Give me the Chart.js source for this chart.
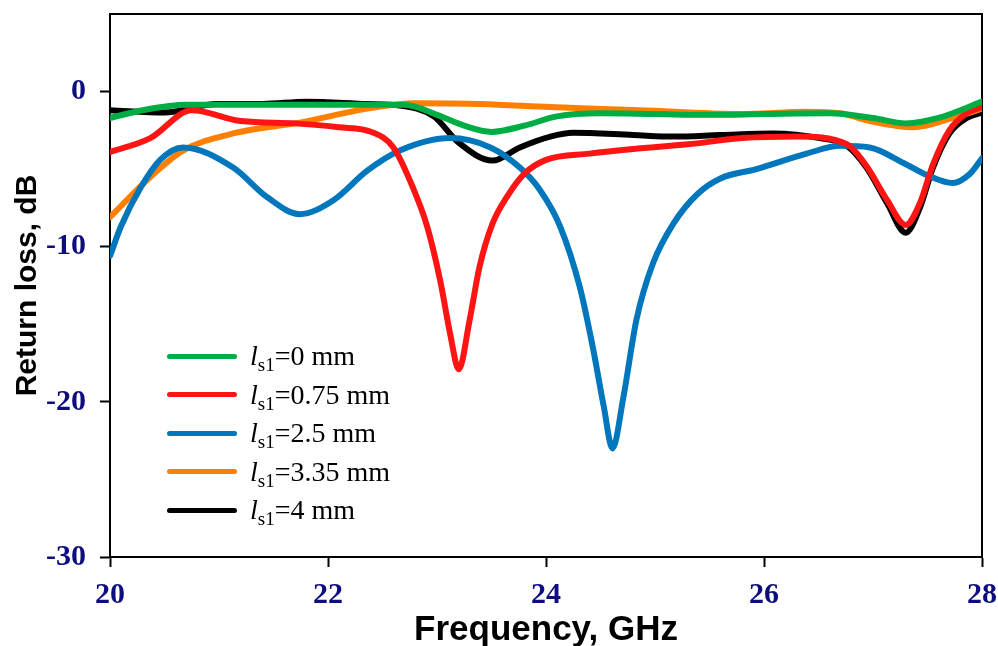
<!DOCTYPE html>
<html>
<head>
<meta charset="utf-8">
<script src="https://cdn.jsdelivr.net/npm/chart.js@4.4.1/dist/chart.umd.min.js"></script>
<style>
  body { margin: 0; background: #fff; }
  #wrap { position: relative; width: 998px; height: 646px; }
  #legend { position: absolute; left: 167px; top: 337px; font-family: "Liberation Serif", "Times New Roman", serif; font-size: 28px; color: #000; }
  #legend .row { height: 38.5px; display: flex; align-items: center; white-space: nowrap; }
  #legend .swatch { display: inline-block; width: 70px; height: 5px; border-radius: 3px; margin-right: 13px; }
  #legend sub { font-size: 19px; vertical-align: -6px; line-height: 0; }
</style>
</head>
<body>
<div id="wrap">
  <canvas id="chart" width="998" height="646"></canvas>
  <div id="legend"></div>
</div>
<script>
// slot length values (mm) and colours
const slotLengths = ['0', '0.75', '2.5', '3.35', '4'];
const colors = ['#00ad45', '#ff1414', '#0077bd', '#ff8000', '#000000'];

// frequency (GHz) / return loss (dB)
const freqGreen = [20, 20.3, 20.7, 21.2, 21.8, 22.3, 22.7, 23.0, 23.25, 23.5, 23.8, 24.1, 24.5, 25.0, 25.5, 26.0, 26.6, 27.0, 27.3, 27.6, 28];
const lossGreen = [-1.7, -1.2, -0.85, -0.85, -0.85, -0.85, -0.85, -1.5, -2.2, -2.6, -2.2, -1.6, -1.4, -1.45, -1.5, -1.45, -1.4, -1.7, -2.05, -1.7, -0.65];

const freqRed = [20, 20.37, 20.75, 21.2, 21.7, 22.1, 22.4, 22.6, 22.78, 22.91, 23.03, 23.12, 23.2, 23.3, 23.39, 23.51, 23.64, 23.8, 24.0, 24.4, 24.8, 25.3, 25.8, 26.3, 26.76, 26.94, 27.13, 27.3, 27.43, 27.55, 27.7, 27.86, 28];
const lossRed = [-3.9, -3.0, -1.2, -1.9, -2.05, -2.3, -2.6, -3.6, -6.2, -8.7, -12.2, -15.6, -17.9, -14.7, -11.3, -8.5, -6.8, -5.3, -4.4, -4.0, -3.7, -3.4, -3.0, -2.9, -3.4, -4.8, -7.0, -8.6, -7.2, -4.7, -2.5, -1.4, -1.0];

const freqBlue = [20, 20.1, 20.28, 20.46, 20.67, 21.13, 21.44, 21.74, 22.05, 22.36, 22.66, 23.12, 23.49, 23.76, 23.94, 24.13, 24.31, 24.43, 24.53, 24.61, 24.71, 24.83, 24.98, 25.17, 25.39, 25.6, 25.93, 26.39, 26.7, 26.97, 27.28, 27.5, 27.73, 27.89, 28];
const lossBlue = [-10.6, -8.7, -6.2, -4.4, -3.6, -4.9, -6.8, -7.9, -7.0, -5.1, -3.8, -3.0, -3.6, -4.9, -6.3, -8.7, -12.6, -16.5, -20.3, -23.0, -19.7, -14.7, -11.1, -8.5, -6.6, -5.6, -5.0, -4.0, -3.5, -3.6, -4.6, -5.4, -5.9, -5.3, -4.3];

const freqOrange = [20, 20.37, 20.67, 21.13, 21.74, 22.36, 22.8, 23.4, 24.04, 24.86, 25.78, 26.39, 26.7, 26.97, 27.37, 27.73, 28];
const lossOrange = [-8.1, -5.5, -3.8, -2.7, -2.0, -1.1, -0.75, -0.8, -1.0, -1.2, -1.45, -1.3, -1.4, -1.9, -2.3, -1.7, -1.1];

const freqBlack = [20, 20.5, 20.98, 21.4, 21.8, 22.36, 22.66, 22.97, 23.2, 23.51, 23.76, 24.04, 24.25, 24.8, 25.17, 25.6, 26.08, 26.51, 26.76, 26.94, 27.13, 27.3, 27.43, 27.55, 27.7, 27.86, 28];
const lossBlack = [-1.2, -1.35, -0.8, -0.8, -0.65, -0.8, -0.9, -1.6, -3.3, -4.45, -3.6, -2.9, -2.65, -2.8, -2.9, -2.8, -2.7, -3.0, -3.5, -4.9, -7.2, -9.1, -7.5, -4.9, -2.7, -1.7, -1.35];

const xTicks = [20, 22, 24, 26, 28];
const yTicks = [-30, -20, -10, 0];

const freqs = [freqGreen, freqRed, freqBlue, freqOrange, freqBlack];
const losses = [lossGreen, lossRed, lossBlue, lossOrange, lossBlack];

const zip = (xs, ys) => xs.map((x, i) => ({ x: x, y: ys[i] }));

const datasets = slotLengths.map((ls, i) => ({
    label: 'ls1=' + ls + ' mm',
    data: zip(freqs[i], losses[i]),
    borderColor: colors[i],
    backgroundColor: colors[i],
    borderWidth: 6,
    pointRadius: 0,
    showLine: true,
    cubicInterpolationMode: 'monotone',
    borderCapStyle: 'round',
    borderJoinStyle: 'round'
}));

// html legend with italic l and subscript
const legendEl = document.getElementById('legend');
slotLengths.forEach((ls, i) => {
    const row = document.createElement('div');
    row.className = 'row';
    row.innerHTML = '<span class="swatch" style="background:' + colors[i] + '"></span>' +
        '<span><i>l</i><sub>s1</sub>=' + ls + ' mm</span>';
    legendEl.appendChild(row);
});

const frame = {
    id: 'frame',
    beforeDatasetsDraw(chart) {
        const a = chart.chartArea;
        const ctx = chart.ctx;
        ctx.save();
        ctx.strokeStyle = '#000';
        ctx.lineWidth = 2;
        ctx.strokeRect(a.left, a.top, a.right - a.left, a.bottom - a.top);
        ctx.restore();
    }
};

// stop label overhang from shifting the plot area
function noPad(axis) {
    axis.paddingTop = 0;
    axis.paddingBottom = 0;
    axis.paddingLeft = 0;
    axis.paddingRight = 0;
}

const tickFont = { family: '"Liberation Serif", "Times New Roman", serif', size: 30, weight: 'bold' };
const titleFont = { family: '"Liberation Sans", Arial, sans-serif', weight: 'bold' };

new Chart(document.getElementById('chart').getContext('2d'), {
    type: 'scatter',
    data: { datasets: datasets },
    options: {
        responsive: false,
        animation: false,
        layout: { padding: { left: 0, top: 14, right: 16, bottom: 0 } },
        plugins: {
            legend: { display: false },
            tooltip: { enabled: false }
        },
        scales: {
            x: {
                type: 'linear',
                min: 20,
                max: 28,
                afterBuildTicks: (axis) => { axis.ticks = xTicks.map(v => ({ value: v })); },
                afterFit: (axis) => { axis.height = 89; noPad(axis); },
                grid: { drawOnChartArea: false, tickColor: '#000', tickLength: 10, tickWidth: 2 },
                border: { display: true, color: '#000', width: 2 },
                ticks: { color: '#0d0d80', font: tickFont, padding: 10, maxRotation: 0 },
                title: { display: true, text: 'Frequency, GHz', color: '#000', font: Object.assign({ size: 35 }, titleFont), padding: { top: 0, bottom: -5 } }
            },
            y: {
                type: 'linear',
                min: -30,
                max: 5,
                afterBuildTicks: (axis) => { axis.ticks = yTicks.map(v => ({ value: v })); },
                afterFit: (axis) => { axis.width = 110; noPad(axis); },
                grid: { drawOnChartArea: false, tickColor: '#000', tickLength: 10, tickWidth: 2 },
                border: { display: true, color: '#000', width: 2 },
                ticks: { color: '#0d0d80', font: tickFont, padding: 14 },
                title: { display: true, text: 'Return loss, dB', color: '#000', font: Object.assign({ size: 30 }, titleFont), padding: { top: 10, bottom: 0 } }
            }
        }
    },
    plugins: [frame]
});
</script>
</body>
</html>
